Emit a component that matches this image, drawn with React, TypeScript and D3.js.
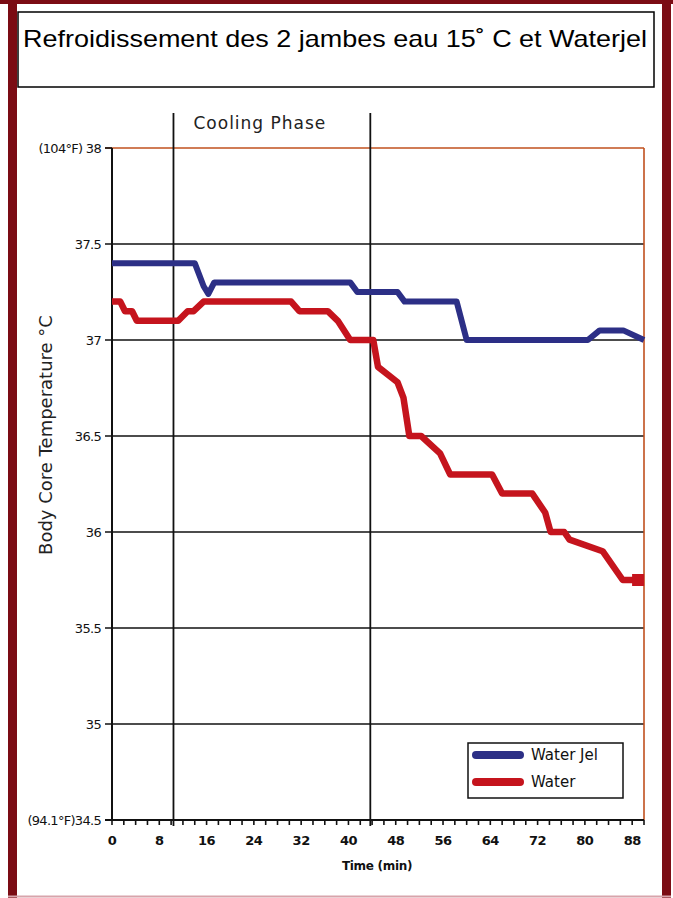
import React, { useEffect, useRef } from 'react'
import * as d3 from 'd3'

const title = "Refroidissement des 2 jambes eau 15\u02da  C et Waterjel"
const yLabel = "Body Core Temperature \u00b0C"
const xLabel = "Time (min)"
const phaseLabel = "Cooling Phase"

const yTicks = [38, 37.5, 37, 36.5, 36, 35.5, 35, 34.5]
const yTickLabels = ["(104\u00b0F) 38", "37.5", "37", "36.5", "36", "35.5", "35", "(94.1\u00b0F)34.5"]
const xMinorTicks = d3.range(0, 91, 2)
const xLabelTicks = [0, 8, 16, 24, 32, 40, 48, 56, 64, 72, 80, 88]
const phaseTimes = [10.4, 43.7]

const jelTime = [0, 14, 15.5, 16.3, 17.3, 40.3, 41.5, 48.3, 49.5, 58.3, 60, 80.5, 82.5, 86.5, 90]
const jelTemp = [37.4, 37.4, 37.28, 37.24, 37.3, 37.3, 37.25, 37.25, 37.2, 37.2, 37.0, 37.0, 37.05, 37.05, 37.0]

const waterTime = [0, 1.4, 2.2, 3.4, 4.2, 11.2, 12.8, 13.8, 15.5, 30.3, 31.7, 36.5, 38.2, 40.3, 44.2, 45, 48.3, 49.3, 50.3, 52.3, 55.5, 57.2, 64.3, 66, 71.1, 73.3, 74.2, 76.5, 77.4, 83, 86.4, 89]
const waterTemp = [37.2, 37.2, 37.15, 37.15, 37.1, 37.1, 37.15, 37.15, 37.2, 37.2, 37.15, 37.15, 37.1, 37.0, 37.0, 36.86, 36.78, 36.7, 36.5, 36.5, 36.41, 36.3, 36.3, 36.2, 36.2, 36.1, 36.0, 36.0, 35.96, 35.9, 35.75, 35.75]

const seriesNames = ["Water Jel", "Water"]
const seriesColors = ["#2c2f86", "#c5141d"]

export default function App() {
    const ref = useRef<SVGSVGElement>(null)

    useEffect(() => {
        const svg = d3.select(ref.current)
        svg.selectAll("*").remove()

        const W = 673, H = 898
        const x = d3.scaleLinear().domain([0, 90]).range([112, 644])
        const y = d3.scaleLinear().domain([34.5, 38]).range([820, 148])
        const font = "'Liberation Sans', Arial, sans-serif"
        const chartFont = "'DejaVu Sans', Verdana, sans-serif"

        svg.append("rect").attr("width", W).attr("height", H).attr("fill", "white")

        // frame
        svg.append("rect").attr("x", 0).attr("y", 0).attr("width", W).attr("height", 4).attr("fill", "#7b0c14")
        svg.append("rect").attr("x", 8).attr("y", 0).attr("width", 9).attr("height", H).attr("fill", "#7b0c14")
        svg.append("rect").attr("x", 662).attr("y", 0).attr("width", 9).attr("height", H).attr("fill", "#7b0c14")
        svg.append("line").attr("x1", 8).attr("x2", 671).attr("y1", 896.5).attr("y2", 896.5)
            .attr("stroke", "#d8a4ab").attr("stroke-width", 2)

        // title box
        svg.append("rect").attr("x", 18).attr("y", 12).attr("width", 636).attr("height", 75)
            .attr("fill", "white").attr("stroke", "black").attr("stroke-width", 1.5)
        svg.append("text").attr("x", 23).attr("y", 47).text(title)
            .attr("textLength", 624).attr("lengthAdjust", "spacingAndGlyphs")
            .style("font-family", font).style("font-size", "24px").attr("fill", "black")

        // grid
        const g = svg.append("g")
        yTicks.forEach((t) => {
            g.append("line").attr("x1", x(0) - 7).attr("x2", x(90)).attr("y1", y(t)).attr("y2", y(t))
                .attr("stroke", t === 38 ? "#c0501e" : "#111").attr("stroke-width", 1.6)
            if (t === 38) {
                g.append("line").attr("x1", x(0) - 7).attr("x2", x(0)).attr("y1", y(t)).attr("y2", y(t))
                    .attr("stroke", "#111").attr("stroke-width", 1.6)
            }
        })
        g.append("line").attr("x1", x(90)).attr("x2", x(90)).attr("y1", y(38)).attr("y2", y(34.5))
            .attr("stroke", "#c0501e").attr("stroke-width", 1.6)

        // phase lines
        phaseTimes.forEach((t) => {
            g.append("line").attr("x1", x(t)).attr("x2", x(t)).attr("y1", 113).attr("y2", y(34.5) + 6)
                .attr("stroke", "#111").attr("stroke-width", 1.8)
        })
        g.append("text").attr("x", x(phaseTimes[0]) + 20).attr("y", 129).text(phaseLabel)
            .style("font-family", chartFont).style("font-size", "17px").style("letter-spacing", "1px")
            .attr("fill", "#222")

        // axes
        g.append("line").attr("x1", x(0)).attr("x2", x(0)).attr("y1", y(38)).attr("y2", y(34.5))
            .attr("stroke", "#111").attr("stroke-width", 2)
        g.append("line").attr("x1", x(0) - 7).attr("x2", x(90)).attr("y1", y(34.5)).attr("y2", y(34.5))
            .attr("stroke", "#111").attr("stroke-width", 2)
        xMinorTicks.forEach((t) => {
            g.append("line").attr("x1", x(t)).attr("x2", x(t)).attr("y1", y(34.5)).attr("y2", y(34.5) + 5)
                .attr("stroke", "#111").attr("stroke-width", 1.6)
        })
        xLabelTicks.forEach((t) => {
            g.append("text").attr("x", x(t)).attr("y", 845).attr("text-anchor", "middle").text(t)
                .style("font-family", chartFont).style("font-size", "13px").style("font-weight", "bold")
                .style("letter-spacing", "-0.5px").attr("fill", "#111")
        })
        yTicks.forEach((t, i) => {
            g.append("text").attr("x", 101).attr("y", y(t) + 4.5).attr("text-anchor", "end").text(yTickLabels[i])
                .style("font-family", chartFont).style("font-size", "13px").style("letter-spacing", "-0.7px")
                .attr("fill", "#111")
        })
        g.append("text").attr("x", 377).attr("y", 870).attr("text-anchor", "middle").text(xLabel)
            .style("font-family", chartFont).style("font-size", "12px").style("font-weight", "bold")
            .style("letter-spacing", "-0.3px").attr("fill", "#111")
        g.append("text").attr("transform", "translate(52,435) rotate(-90)").attr("text-anchor", "middle")
            .text(yLabel).style("font-family", chartFont).style("font-size", "18px").attr("fill", "#222")

        // series
        const line = d3.line<[number, number]>().x(d => x(d[0])).y(d => y(d[1]))
        const jel: [number, number][] = jelTime.map((t, i) => [t, jelTemp[i]])
        const water: [number, number][] = waterTime.map((t, i) => [t, waterTemp[i]])

        g.append("path").attr("d", line(water)).attr("fill", "none").attr("stroke", seriesColors[1])
            .attr("stroke-width", 6.5).attr("stroke-linejoin", "round")
        g.append("path").attr("d", line(jel)).attr("fill", "none").attr("stroke", seriesColors[0])
            .attr("stroke-width", 6).attr("stroke-linejoin", "round")
        const last = water[water.length - 1]
        g.append("rect").attr("x", x(last[0]) - 6).attr("y", y(last[1]) - 6).attr("width", 12).attr("height", 12)
            .attr("fill", seriesColors[1])

        // legend
        const lg = svg.append("g").attr("transform", "translate(468,743)")
        lg.append("rect").attr("width", 155).attr("height", 55).attr("fill", "white")
            .attr("stroke", "#111").attr("stroke-width", 1.5)
        seriesNames.forEach((name, i) => {
            const ly = 12 + i * 27
            lg.append("line").attr("x1", 8).attr("x2", 52).attr("y1", ly).attr("y2", ly)
                .attr("stroke", seriesColors[i]).attr("stroke-width", 8).attr("stroke-linecap", "round")
            lg.append("text").attr("x", 63).attr("y", ly + 5).text(name)
                .style("font-family", chartFont).style("font-size", "15px")
                .attr("fill", "#111")
        })
    }, [])

    return (
        <svg ref={ref} width={673} height={898} style={{ position: 'absolute', left: 0, top: 0 }} />
    )
}
